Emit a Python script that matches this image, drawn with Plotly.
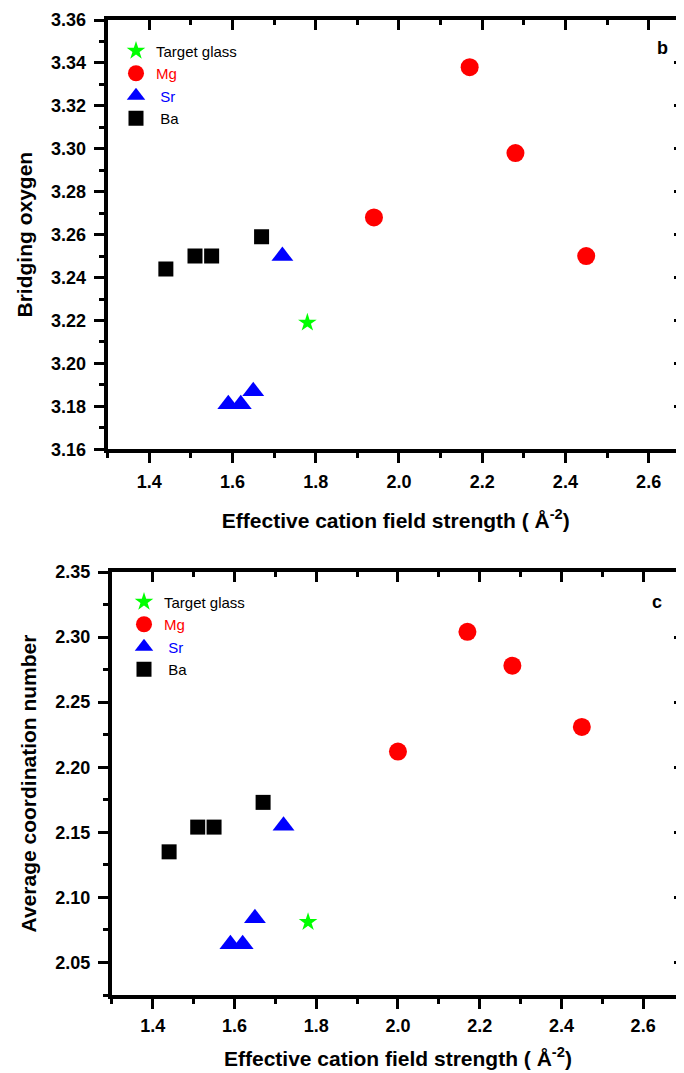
import plotly.graph_objects as go

# ---------------- data ----------------
x_target = [1.78]
bo_target = [3.219]
cn_target = [2.081]

x_mg_b = [1.94, 2.17, 2.28, 2.45]
bo_mg = [3.268, 3.338, 3.298, 3.250]
x_mg_c = [2.00, 2.17, 2.28, 2.45]
cn_mg = [2.212, 2.304, 2.278, 2.231]

x_sr = [1.59, 1.62, 1.65, 1.72]
bo_sr = [3.181, 3.181, 3.187, 3.250]
cn_sr = [2.064, 2.064, 2.084, 2.155]

x_ba = [1.44, 1.51, 1.55, 1.67]
bo_ba = [3.244, 3.250, 3.250, 3.259]
cn_ba = [2.135, 2.154, 2.154, 2.173]

names = ["Target glass",
         "<span style='color:#ff0000'>Mg</span>",
         "<span style='color:#0000ff'>&nbsp;Sr</span>",
         "&nbsp;Ba"]
x_title = "<b>Effective cation field strength ( Å<sup>-2</sup>)</b>"
y_title_b = "<b>Bridging oxygen</b>"
y_title_c = "<b>Average coordination number</b>"

FONT = "Liberation Sans, Arial, sans-serif"
PAGE_W, PAGE_H = 684, 1073
OFF = 8                      # default body margin of the html page
W, H = PAGE_W - OFF, PAGE_H - OFF

fig = go.Figure()


def add_series(xs_list, ys_list, xa, ya, legend):
    specs = [
        (xs_list[0], ys_list[0], names[0], "star", "#00ff00", 14),
        (xs_list[1], ys_list[1], names[1], "circle", "#ff0000", 18),
        (xs_list[2], ys_list[2], names[2], "triangle-up", "#0000ff", 19),
        (xs_list[3], ys_list[3], names[3], "square", "#000000", 15),
    ]
    for xs, ys, nm, sym, col, sz in specs:
        fig.add_trace(go.Scatter(
            x=xs, y=ys, mode="markers", name=nm,
            marker=dict(symbol=sym, color=col, size=sz, line=dict(width=0)),
            xaxis=xa, yaxis=ya, legend=legend))


add_series([x_target, x_mg_b, x_sr, x_ba], [bo_target, bo_mg, bo_sr, bo_ba],
           "x", "y", "legend")
add_series([x_target, x_mg_c, x_sr, x_ba], [cn_target, cn_mg, cn_sr, cn_ba],
           "x2", "y2", "legend2")

# helper traces so that the mirrored (top / right) axes are drawn
fig.add_trace(go.Scatter(x=[None], y=[None], xaxis="x3", yaxis="y3",
                         showlegend=False, hoverinfo="skip"))
fig.add_trace(go.Scatter(x=[None], y=[None], xaxis="x4", yaxis="y4",
                         showlegend=False, hoverinfo="skip"))

tickfont = dict(family=FONT, size=18, color="black", weight="bold")
titlefont = dict(family=FONT, size=21, color="black")


def px_x(p):  # page pixel -> paper
    return (p - OFF) / W


def px_y(p):
    return 1 - (p - OFF) / H


common = dict(showline=True, linewidth=4, linecolor="black", showgrid=False,
              zeroline=False, tickwidth=3, tickcolor="black", ticklen=10)

b_xdom = [px_x(107.6), 1.0]
b_ydom = [px_y(449.3), px_y(20)]
c_xdom = [px_x(111.9), 1.0]
c_ydom = [px_y(995), px_y(572)]


def xmain(dom, anchor, rng, lstand, tstand):
    return dict(common, domain=dom, anchor=anchor, range=rng, ticks="outside",
                dtick=0.2, tick0=0, tickformat=".1f", tickfont=tickfont,
                ticklabelstandoff=lstand,
                minor=dict(ticks="outside", ticklen=5, tickwidth=3,
                           tickcolor="black", dtick=0.1, tick0=0),
                title=dict(text=x_title, font=titlefont, standoff=tstand))


def xtop(over, anchor):
    return dict(common, overlaying=over, matches=over, anchor=anchor, side="top",
                ticks="inside", dtick=0.2, tick0=0, showticklabels=False,
                minor=dict(ticks="inside", ticklen=5, tickwidth=3,
                           tickcolor="black", dtick=0.1, tick0=0))


def ymain(dom, anchor, rng, dt, t0, mdt, title):
    return dict(common, domain=dom, anchor=anchor, range=rng, ticks="outside",
                dtick=dt, tick0=t0, tickformat=".2f", tickfont=tickfont,
                ticklabelstandoff=4,
                minor=dict(ticks="outside", ticklen=5, tickwidth=3,
                           tickcolor="black", dtick=mdt, tick0=t0),
                title=dict(text=title, font=titlefont, standoff=14))


def yright(over, anchor, dt, t0, mdt):
    return dict(common, overlaying=over, matches=over, anchor=anchor, side="right",
                ticks="inside", dtick=dt, tick0=t0, showticklabels=False,
                minor=dict(ticks="inside", ticklen=5, tickwidth=3,
                           tickcolor="black", dtick=mdt, tick0=t0))


legend_font = dict(family=FONT, size=15, color="black")

fig.update_layout(
    width=W, height=H, template="none",
    paper_bgcolor="white", plot_bgcolor="rgba(0,0,0,0)",
    margin=dict(l=0, r=0, t=0, b=0),
    font=dict(family=FONT, color="black"),
    xaxis=xmain(b_xdom, "y", [1.3, 2.685], 3, 23),
    yaxis=ymain(b_ydom, "x", [3.16, 3.36], 0.02, 3.16, 0.01, y_title_b),
    xaxis3=xtop("x", "y"),
    yaxis3=yright("y", "x", 0.02, 3.16, 0.01),
    xaxis2=xmain(c_xdom, "y2", [1.3, 2.7], 1, 18),
    yaxis2=ymain(c_ydom, "x2", [2.025, 2.35], 0.05, 2.05, 0.025, y_title_c),
    xaxis4=xtop("x2", "y2"),
    yaxis4=yright("y2", "x2", 0.05, 2.05, 0.025),
    legend=dict(x=px_x(116), y=px_y(34.5), xanchor="left", yanchor="top",
                bgcolor="rgba(0,0,0,0)", font=legend_font, itemsizing="trace"),
    legend2=dict(x=px_x(124), y=px_y(585.5), xanchor="left", yanchor="top",
                 bgcolor="rgba(0,0,0,0)", font=legend_font, itemsizing="trace"),
    annotations=[
        dict(text="<b>b</b>", x=px_x(662), y=px_y(48), xref="paper", yref="paper",
             xanchor="center", yanchor="middle", showarrow=False,
             font=dict(family=FONT, size=18, color="black")),
        dict(text="<b>c</b>", x=px_x(657), y=px_y(602), xref="paper", yref="paper",
             xanchor="center", yanchor="middle", showarrow=False,
             font=dict(family=FONT, size=18, color="black")),
    ],
)

fig.write_html("out.html")
